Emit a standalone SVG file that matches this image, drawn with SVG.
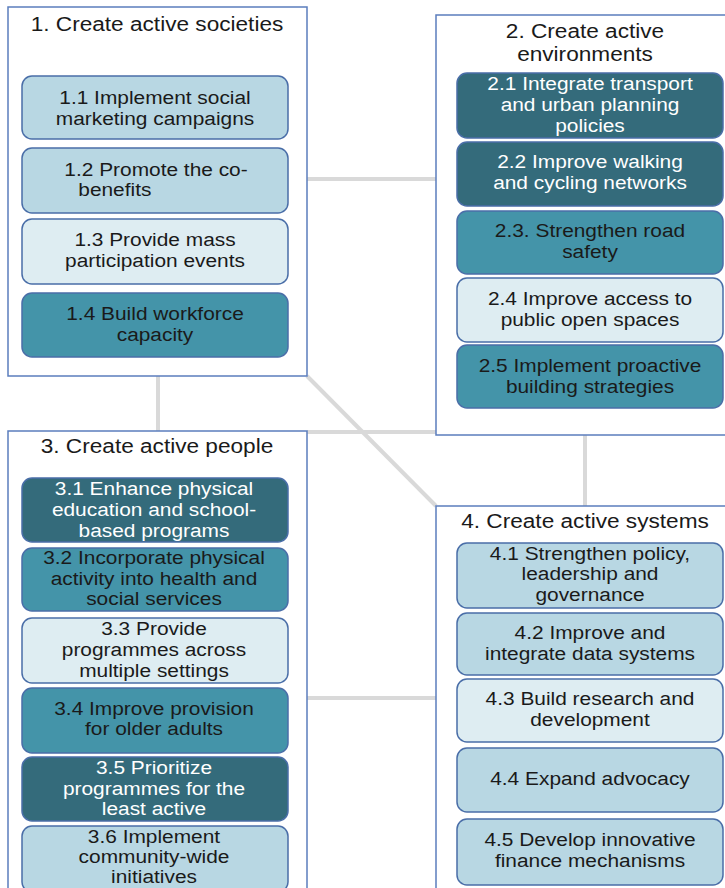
<svg xmlns="http://www.w3.org/2000/svg" width="725" height="888" viewBox="0 0 725 888">
<style>
  .frame{fill:#ffffff;stroke:#5b7dbd;stroke-width:1.5}
  .b{stroke:#4a6ea8;stroke-width:1.5}
  .lb{fill:#b8d7e3}
  .vl{fill:#deedf2}
  .mt{fill:#4494a9}
  .dt{fill:#346b7b}
  .t{font-family:"Liberation Sans",Arial,sans-serif;font-size:18px;text-anchor:middle;fill:#1a1a1a}
  .w{fill:#ffffff}
  .h{font-family:"Liberation Sans",Arial,sans-serif;font-size:19.5px;text-anchor:middle;fill:#1a1a1a}
  .c{stroke:#d9d9d9;stroke-width:4;fill:none}
</style>
<rect width="725" height="888" fill="#ffffff"/>
<g id="connectors">
  <line class="c" x1="307" y1="179" x2="436" y2="179"/>
  <line class="c" x1="307" y1="432" x2="436" y2="432"/>
  <line class="c" x1="307" y1="698" x2="436" y2="698"/>
  <line class="c" x1="158" y1="376" x2="158" y2="431"/>
  <line class="c" x1="585" y1="435" x2="585" y2="506"/>
  <line class="c" x1="307" y1="376" x2="436" y2="506"/>
</g>

<g id="group1">
  <rect class="frame" x="8" y="7" width="299" height="369"/>
  <text class="h" transform="translate(157 0) scale(1.16 1)" x="0" y="31">1. Create active societies</text>
</g>
<g id="n1-1"><rect class="b lb" x="22" y="76" width="266" height="63" rx="10"/>
  <text class="t" transform="translate(155 0) scale(1.16 1)"><tspan x="0" y="104">1.1 Implement social</tspan><tspan x="0" y="125">marketing campaigns</tspan></text></g>
<g id="n1-2"><rect class="b lb" x="22" y="148" width="266" height="65" rx="10"/>
  <text class="t" transform="translate(0 0) scale(1.16 1)"><tspan x="134.5" y="176">1.2 Promote the co-</tspan><tspan x="99" y="196">benefits</tspan></text></g>
<g id="n1-3"><rect class="b vl" x="22" y="219" width="266" height="65" rx="10"/>
  <text class="t" transform="translate(155 0) scale(1.16 1)"><tspan x="0" y="246">1.3 Provide mass</tspan><tspan x="0" y="267">participation events</tspan></text></g>
<g id="n1-4"><rect class="b mt" x="22" y="293" width="266" height="64" rx="10"/>
  <text class="t" transform="translate(155 0) scale(1.16 1)"><tspan x="0" y="320">1.4 Build workforce</tspan><tspan x="0" y="341">capacity</tspan></text></g>

<g id="group2">
  <rect class="frame" x="436" y="15" width="300" height="420"/>
  <text class="h" transform="translate(585 0) scale(1.16 1)"><tspan x="0" y="38">2. Create active</tspan><tspan x="0" y="61">environments</tspan></text>
</g>
<g id="n2-1"><rect class="b dt" x="457" y="73" width="266" height="65" rx="10"/>
  <text class="t w" transform="translate(590 0) scale(1.16 1)"><tspan x="0" y="90">2.1 Integrate transport</tspan><tspan x="0" y="111">and urban planning</tspan><tspan x="0" y="132">policies</tspan></text></g>
<g id="n2-2"><rect class="b dt" x="457" y="142" width="266" height="64" rx="10"/>
  <text class="t w" transform="translate(590 0) scale(1.16 1)"><tspan x="0" y="168.5">2.2 Improve walking</tspan><tspan x="0" y="189.5">and cycling networks</tspan></text></g>
<g id="n2-3"><rect class="b mt" x="457" y="211" width="266" height="63" rx="10"/>
  <text class="t" transform="translate(590 0) scale(1.16 1)"><tspan x="0" y="237.5">2.3. Strengthen road</tspan><tspan x="0" y="258">safety</tspan></text></g>
<g id="n2-4"><rect class="b vl" x="457" y="278" width="266" height="64" rx="10"/>
  <text class="t" transform="translate(590 0) scale(1.16 1)"><tspan x="0" y="305">2.4 Improve access to</tspan><tspan x="0" y="326">public open spaces</tspan></text></g>
<g id="n2-5"><rect class="b mt" x="457" y="345" width="266" height="63" rx="10"/>
  <text class="t" transform="translate(590 0) scale(1.16 1)"><tspan x="0" y="372">2.5 Implement proactive</tspan><tspan x="0" y="393">building strategies</tspan></text></g>

<g id="group3">
  <rect class="frame" x="8" y="431" width="299" height="470"/>
  <text class="h" transform="translate(157 0) scale(1.16 1)" x="0" y="453">3. Create active people</text>
</g>
<g id="n3-1"><rect class="b dt" x="22" y="478" width="266" height="64" rx="10"/>
  <text class="t w" transform="translate(154 0) scale(1.16 1)"><tspan x="0" y="495">3.1 Enhance physical</tspan><tspan x="0" y="516">education and school-</tspan><tspan x="0" y="537">based programs</tspan></text></g>
<g id="n3-2"><rect class="b mt" x="22" y="548" width="266" height="63" rx="10"/>
  <text class="t" transform="translate(154 0) scale(1.16 1)"><tspan x="0" y="564.5">3.2 Incorporate physical</tspan><tspan x="0" y="585">activity into health and</tspan><tspan x="0" y="605.5">social services</tspan></text></g>
<g id="n3-3"><rect class="b vl" x="22" y="618" width="266" height="65" rx="10"/>
  <text class="t" transform="translate(154 0) scale(1.16 1)"><tspan x="0" y="635">3.3 Provide</tspan><tspan x="0" y="656">programmes across</tspan><tspan x="0" y="677">multiple settings</tspan></text></g>
<g id="n3-4"><rect class="b mt" x="22" y="688" width="266" height="65" rx="10"/>
  <text class="t" transform="translate(154 0) scale(1.16 1)"><tspan x="0" y="715">3.4 Improve provision</tspan><tspan x="0" y="735.5">for older adults</tspan></text></g>
<g id="n3-5"><rect class="b dt" x="22" y="757" width="266" height="64" rx="10"/>
  <text class="t w" transform="translate(154 0) scale(1.16 1)"><tspan x="0" y="774">3.5 Prioritize</tspan><tspan x="0" y="795">programmes for the</tspan><tspan x="0" y="815.5">least active</tspan></text></g>
<g id="n3-6"><rect class="b lb" x="22" y="826" width="266" height="66" rx="10"/>
  <text class="t" transform="translate(154 0) scale(1.16 1)"><tspan x="0" y="843">3.6 Implement</tspan><tspan x="0" y="863">community-wide</tspan><tspan x="0" y="883.5">initiatives</tspan></text></g>

<g id="group4">
  <rect class="frame" x="436" y="506" width="300" height="400"/>
  <text class="h" transform="translate(585 0) scale(1.16 1)" x="0" y="528">4. Create active systems</text>
</g>
<g id="n4-1"><rect class="b lb" x="457" y="543" width="266" height="65" rx="10"/>
  <text class="t" transform="translate(590 0) scale(1.16 1)"><tspan x="0" y="560">4.1 Strengthen policy,</tspan><tspan x="0" y="580.5">leadership and</tspan><tspan x="0" y="601">governance</tspan></text></g>
<g id="n4-2"><rect class="b lb" x="457" y="613" width="266" height="62" rx="10"/>
  <text class="t" transform="translate(590 0) scale(1.16 1)"><tspan x="0" y="639">4.2 Improve and</tspan><tspan x="0" y="660">integrate data systems</tspan></text></g>
<g id="n4-3"><rect class="b vl" x="457" y="679" width="266" height="63" rx="10"/>
  <text class="t" transform="translate(590 0) scale(1.16 1)"><tspan x="0" y="705">4.3 Build research and</tspan><tspan x="0" y="726">development</tspan></text></g>
<g id="n4-4"><rect class="b lb" x="457" y="748" width="266" height="64" rx="10"/>
  <text class="t" transform="translate(590 0) scale(1.16 1)"><tspan x="0" y="785.5">4.4 Expand advocacy</tspan></text></g>
<g id="n4-5"><rect class="b lb" x="457" y="819" width="266" height="66" rx="10"/>
  <text class="t" transform="translate(590 0) scale(1.16 1)"><tspan x="0" y="846">4.5 Develop innovative</tspan><tspan x="0" y="867">finance mechanisms</tspan></text></g>
</svg>
